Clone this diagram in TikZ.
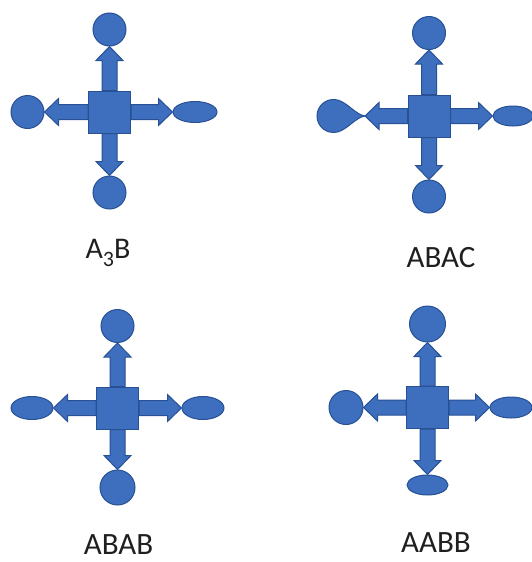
\documentclass[tikz,border=0pt]{standalone}
\usepackage{fontspec}
\setmainfont{Carlito}
\usetikzlibrary{calc,shapes.geometric}
\definecolor{bfill}{RGB}{61,111,190}
\definecolor{bline}{RGB}{40,80,148}
\tikzset{
  lig/.style={fill=bfill, draw=bline, line width=1pt, inner sep=0pt},
  ligc/.style={lig, circle, minimum size=#1},
  lige/.style 2 args={lig, ellipse, minimum width=#1, minimum height=#2},
  core/.style={fill=bfill, draw=bline, line width=1pt, inner sep=0pt, minimum size=42pt},
  barr/.style={fill=bfill, draw=bline, line width=1pt, line join=miter},
  lbl/.style={anchor=base, inner sep=0pt, font=\fontsize{31}{36}\selectfont, text=black!88},
}
\newcommand\barrow[2]{%
  \path[barr] let \p1=(#1), \p2=(#2),
    \n1={atan2(\y2-\y1,\x2-\x1)},
    \n2={veclen(\x2-\x1,\y2-\y1)-14pt}
  in ($(\p1)+({\n1+90}:7.5pt)$)
  -- ($(\p1)+({\n1+90}:7.5pt)+(\n1:\n2)$)
  -- ($(\p1)+({\n1+90}:13.5pt)+(\n1:\n2)$)
  -- (\p2)
  -- ($(\p1)+({\n1-90}:13.5pt)+(\n1:\n2)$)
  -- ($(\p1)+({\n1-90}:7.5pt)+(\n1:\n2)$)
  -- ($(\p1)+({\n1-90}:7.5pt)$) -- cycle;}
\begin{document}
\begin{tikzpicture}[x=1pt,y=-1pt]
\useasboundingbox (0,0) rectangle (531,562);

% ---------- panel 1: A3B ----------
\node[core] (s1) at (109.5,112) {};
\node[ligc=33pt] (t1) at (109.5,29.5) {};
\node[ligc=33pt] (b1) at (109.5,192.5) {};
\node[ligc=33pt] (w1) at (27.5,112) {};
\node[lige={44pt}{21pt}] (e1) at (195,112) {};
\barrow{s1.north}{t1.south}
\barrow{s1.south}{b1.north}
\barrow{s1.west}{w1.east}
\barrow{s1.east}{e1.west}
\node[lbl, font=\fontsize{30}{36}\selectfont] (l1) at (108,258) {A\raisebox{-8pt}{\fontsize{22}{22}\selectfont 3}B};

% ---------- panel 2: ABAC ----------
\node[core] (s2) at (429,116) {};
\node[ligc=33pt] (t2) at (429,33) {};
\node[ligc=33pt] (b2) at (429,196.5) {};
\node[lige={40pt}{20pt}] (e2) at (513,116) {};
\begin{scope}[shift={(365,116)}, x=1pt, y=1pt]
  \path[lig] (0,0) .. controls (-9,1.2) and (-17.6,13.35) .. (-27.23,15.94)
    arc[start angle=75, end angle=285, radius=16.5pt]
    .. controls (-17.6,-13.35) and (-9,-1.2) .. (0,0) -- cycle;
  \coordinate (w2) at (0,0);
\end{scope}
\barrow{s2.north}{t2.south}
\barrow{s2.south}{b2.north}
\barrow{s2.west}{w2}
\barrow{s2.east}{e2.west}
\node[lbl] (l2) at (441,267) {ABAC};

% ---------- panel 3: ABAB ----------
\node[core] (s3) at (117.5,408) {};
\node[ligc=33pt] (t3) at (117.5,326) {};
\node[ligc=35pt] (b3) at (117.5,487.5) {};
\node[lige={42pt}{23pt}] (w3) at (32,408) {};
\node[lige={42pt}{23pt}] (e3) at (203,408) {};
\barrow{s3.north}{t3.south}
\barrow{s3.south}{b3.north}
\barrow{s3.west}{w3.east}
\barrow{s3.east}{e3.west}
\node[lbl] (l3) at (118.5,554) {ABAB};

% ---------- panel 4: AABB ----------
\node[core] (s4) at (427.5,407.5) {};
\node[ligc=36pt] (t4) at (427.5,324) {};
\node[ligc=34pt] (w4) at (346,407.5) {};
\node[lige={42pt}{21pt}] (e4) at (511,407.5) {};
\node[lige={41pt}{20pt}] (b4) at (427.5,485) {};
\barrow{s4.north}{t4.south}
\barrow{s4.south}{b4.north}
\barrow{s4.west}{w4.east}
\barrow{s4.east}{e4.west}
\node[lbl] (l4) at (436,552) {AABB};
\end{tikzpicture}
\end{document}
